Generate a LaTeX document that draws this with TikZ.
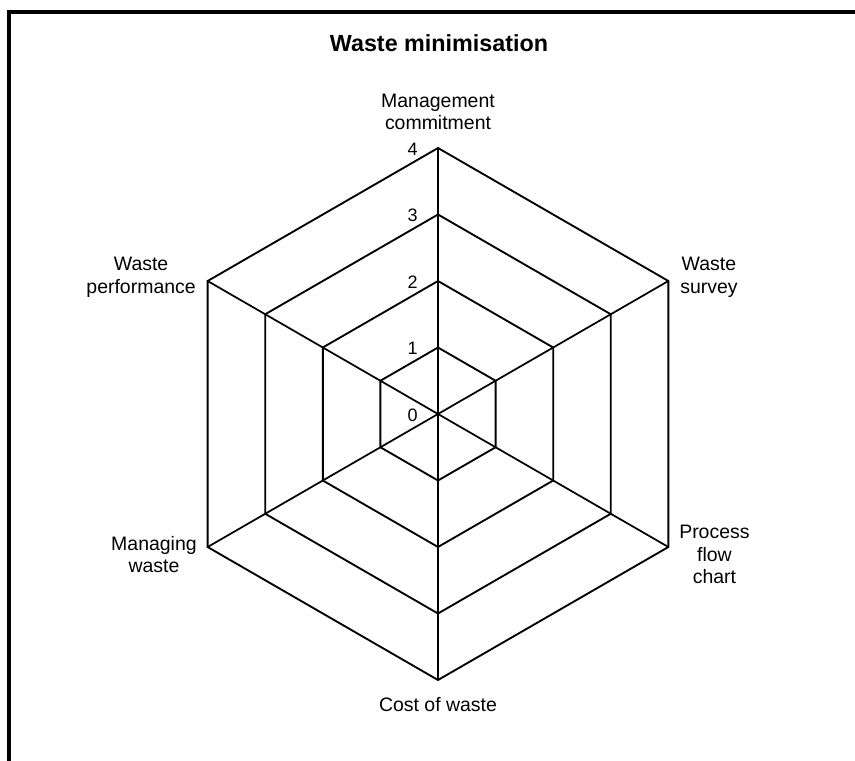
\documentclass[tikz,border=0pt]{standalone}
\usepackage{fontspec}
\setmainfont{Liberation Sans}
\usetikzlibrary{calc}
\begin{document}
\begin{tikzpicture}[x=0.75pt,y=-0.75pt,
  ring/.style={line width=1.4pt,line join=miter},
  spoke/.style={line width=1.3pt},
  frameline/.style={line width=2.4pt},
  axislabel/.style={inner sep=0pt,align=center,font=\fontsize{14.6}{17}\selectfont},
  ticklabel/.style={inner sep=0pt,anchor=east,font=\fontsize{13.5}{15}\selectfont},
  charttitle/.style={inner sep=0pt,font=\fontsize{17.5}{20}\selectfont\bfseries}]
  \useasboundingbox (0,0) rectangle (855,760);
  % outer frame (only the top and left edges fall inside the page)
  \draw[frameline] (9,780) -- (9,12) -- (880,12);
  \node[charttitle] (title) at (439,43) {Waste minimisation};
  % chart centre and the vertices of each level
  \coordinate (c) at (438,414);
  \foreach \i/\a in {1/90,2/30,3/-30,4/-90,5/-150,6/150}{
    \foreach \k in {1,...,4}{
      \coordinate (v\i-\k) at ($(c)+({-\a}:{66.5*\k})$);
    }
  }
  % level rings
  \foreach \k in {1,...,4}{
    \draw[ring] (v1-\k) -- (v2-\k) -- (v3-\k) -- (v4-\k) -- (v5-\k) -- (v6-\k) -- cycle;
  }
  % spokes
  \draw[spoke,line width=1.7pt] (c) -- (v1-4);
  \foreach \i in {2,...,6}{
    \draw[spoke] (c) -- (v\i-4);
  }
  % scale values along the top spoke
  \foreach \k in {0,...,4}{
    \node[ticklabel] (tick\k) at ($(c)+(-20,{1-66.5*\k})$) {\k};
  }
  % category labels
  \node[axislabel] (lab1) at (438,112) {Management\\commitment};
  \node[axislabel,anchor=west] (lab2) at (680,277.5) {Waste\\survey};
  \node[axislabel,anchor=west] (lab3) at (679,554.5) {Process\\flow\\chart};
  \node[axislabel] (lab4) at (438,705) {Cost of waste};
  \node[axislabel,anchor=east] (lab5) at (197,554.5) {Managing\\waste};
  \node[axislabel,anchor=east] (lab6) at (196,277.5) {Waste\\performance};
\end{tikzpicture}
\end{document}
